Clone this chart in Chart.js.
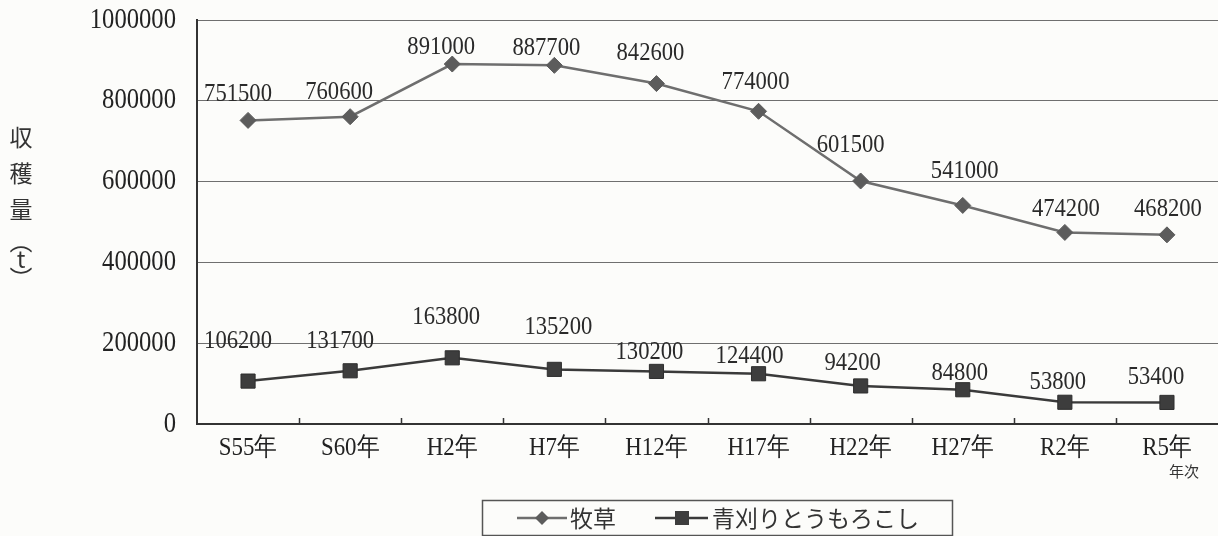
<!DOCTYPE html>
<html>
<head>
<meta charset="utf-8">
<script src="https://cdn.jsdelivr.net/npm/chart.js@4/dist/chart.umd.min.js"></script>
<style>
  html, body { margin: 0; padding: 0; background: #fcfcfa; overflow: hidden; }
  #wrap { position: relative; width: 1218px; height: 536px; overflow: hidden; }
  #c { position: absolute; left: 0; top: 0; }
</style>
</head>
<body>
<div id="wrap"><canvas id="c" width="1229" height="536"></canvas></div>
<script>
// ---- data ----
const categories = ['S55年', 'S60年', 'H2年', 'H7年', 'H12年', 'H17年', 'H22年', 'H27年', 'R2年', 'R5年'];
const bokusou = [751500, 760600, 891000, 887700, 842600, 774000, 601500, 541000, 474200, 468200];
const aogari = [106200, 131700, 163800, 135200, 130200, 124400, 94200, 84800, 53800, 53400];
const seriesNames = ['牧草', '青刈りとうもろこし'];
const yTicks = [0, 200000, 400000, 600000, 800000, 1000000];
const yTitleChars = ['収', '穫', '量', '︵', 't', '︶'];
const xAxisNote = '年次';

// ---- label placement (style) ----
const liftTop = [26, 25, 17, 17, 30, 29, 36, 34, 23, 26];
const dxTop = [-10, -11, -11, -8, -6, -3, -10, 2, 1, 1];
const liftBot = [40, 30, 41, 42, 19, 18, 23, 17, 20, 25];
const dxBot = [-10, -10, -6, 4, -7, -9, -8, -3, -7, -11];

const SERIF = '"Liberation Serif", "DejaVu Serif", serif';
const CJK = '"Noto Sans CJK JP", "Noto Sans", sans-serif';

function condensedText(ctx, text, x, y, sx, align) {
  ctx.save();
  ctx.translate(x, y);
  ctx.scale(sx, 1);
  ctx.textAlign = align;
  ctx.fillText(text, 0, 0);
  ctx.restore();
}

const bgPlugin = {
  id: 'bg',
  beforeDraw(chart) {
    const ctx = chart.ctx;
    ctx.save();
    ctx.fillStyle = '#fcfcfa';
    ctx.fillRect(0, 0, chart.width, chart.height);
    ctx.restore();
  }
};

const axisText = {
  id: 'axisText',
  afterDraw(chart) {
    const ctx = chart.ctx;
    const xs = chart.scales.x, ys = chart.scales.y;
    const area = chart.chartArea;
    ctx.save();
    ctx.fillStyle = '#222';
    ctx.textBaseline = 'middle';
    ctx.font = '29px ' + SERIF;
    yTicks.forEach(v => {
      condensedText(ctx, String(v), 176, ys.getPixelForValue(v), 0.85, 'right');
    });
    ctx.font = '26px ' + SERIF;
    categories.forEach((c, i) => {
      condensedText(ctx, c, xs.getPixelForValue(i), area.bottom + 24, 0.88, 'center');
    });
    ctx.restore();
  }
};

const innerTicks = {
  id: 'innerTicks',
  afterDatasetsDraw(chart) {
    const ctx = chart.ctx;
    const xs = chart.scales.x;
    const area = chart.chartArea;
    ctx.save();
    ctx.strokeStyle = '#333';
    ctx.lineWidth = 1.5;
    for (let i = 1; i < categories.length; i++) {
      const x = Math.round((xs.getPixelForValue(i - 1) + xs.getPixelForValue(i)) / 2) + 0.5;
      ctx.beginPath();
      ctx.moveTo(x, area.bottom);
      ctx.lineTo(x, area.bottom - 6);
      ctx.stroke();
    }
    ctx.restore();
  }
};

const valueLabels = {
  id: 'valueLabels',
  afterDatasetsDraw(chart) {
    const ctx = chart.ctx;
    ctx.save();
    ctx.font = '26px ' + SERIF;
    ctx.fillStyle = '#2a2a2a';
    ctx.textBaseline = 'middle';
    chart.data.datasets.forEach((ds, di) => {
      const meta = chart.getDatasetMeta(di);
      const lift = di === 0 ? liftTop : liftBot;
      const dx = di === 0 ? dxTop : dxBot;
      meta.data.forEach((pt, i) => {
        condensedText(ctx, String(ds.data[i]), pt.x + dx[i], pt.y - lift[i], 0.87, 'center');
      });
    });
    ctx.restore();
  }
};

const extras = {
  id: 'extras',
  afterDraw(chart) {
    const ctx = chart.ctx;
    ctx.save();
    // y-axis title, vertical stacked
    ctx.fillStyle = '#333';
    ctx.textAlign = 'center';
    ctx.textBaseline = 'middle';
    ctx.font = '23px ' + CJK;
    const ys = [137, 173, 209, 241, 259, 278];
    yTitleChars.forEach((ch, i) => {
      ctx.fillText(ch, 21, ys[i]);
    });
    // x axis note
    ctx.font = '15px ' + CJK;
    ctx.fillText(xAxisNote, 1184, 471);

    // legend box
    const bx = 482, by = 500, bw = 470, bh = 35;
    ctx.strokeStyle = '#555';
    ctx.lineWidth = 1.5;
    ctx.strokeRect(bx + 0.5, by + 0.5, bw, bh);
    const cy = 518;
    const dss = chart.data.datasets;
    // item 1
    ctx.strokeStyle = dss[0].borderColor;
    ctx.lineWidth = 2.5;
    ctx.beginPath(); ctx.moveTo(517, cy); ctx.lineTo(567, cy); ctx.stroke();
    ctx.fillStyle = dss[0].pointBackgroundColor;
    ctx.beginPath();
    ctx.moveTo(542, cy - 7); ctx.lineTo(549, cy); ctx.lineTo(542, cy + 7); ctx.lineTo(535, cy);
    ctx.closePath(); ctx.fill();
    ctx.fillStyle = '#333';
    ctx.textAlign = 'left';
    ctx.font = '23px ' + CJK;
    ctx.fillText(seriesNames[0], 570, cy);
    // item 2
    ctx.strokeStyle = dss[1].borderColor;
    ctx.beginPath(); ctx.moveTo(655, cy); ctx.lineTo(708, cy); ctx.stroke();
    ctx.fillStyle = dss[1].pointBackgroundColor;
    ctx.fillRect(675, cy - 7, 14, 14);
    ctx.fillStyle = '#333';
    ctx.fillText(seriesNames[1], 712, cy);
    ctx.restore();
  }
};

new Chart(document.getElementById('c'), {
  type: 'line',
  data: {
    labels: categories,
    datasets: [
      {
        label: seriesNames[0],
        data: bokusou,
        borderColor: '#6e6e6e',
        backgroundColor: '#5c5c5c',
        pointBackgroundColor: '#5c5c5c',
        pointBorderColor: '#5c5c5c',
        pointStyle: 'rectRot',
        pointRadius: 8,
        pointBorderWidth: 1,
        borderWidth: 2.5,
        tension: 0
      },
      {
        label: seriesNames[1],
        data: aogari,
        borderColor: '#3a3a3a',
        backgroundColor: '#3d3d3d',
        pointBackgroundColor: '#3d3d3d',
        pointBorderColor: '#2e2e2e',
        pointStyle: 'rect',
        pointRadius: 10,
        pointBorderWidth: 1,
        borderWidth: 2.5,
        tension: 0
      }
    ]
  },
  options: {
    responsive: false,
    animation: false,
    devicePixelRatio: 1,
    layout: { padding: { left: 0, right: 0, top: 20, bottom: 0 } },
    plugins: {
      legend: { display: false },
      tooltip: { enabled: false }
    },
    scales: {
      x: {
        offset: true,
        grid: { display: false, drawTicks: false },
        border: { display: true, color: '#333', width: 2 },
        ticks: { display: false, autoSkip: false },
        afterFit(scale) { scale.height = 112; }
      },
      y: {
        min: 0,
        max: 1000000,
        afterBuildTicks(scale) { scale.ticks = yTicks.map(v => ({ value: v })); },
        grid: { color: '#6f6f6f', lineWidth: 1, drawTicks: false },
        border: { display: true, color: '#333', width: 2 },
        ticks: { display: false },
        afterFit(scale) { scale.width = 197; }
      }
    }
  },
  plugins: [bgPlugin, innerTicks, valueLabels, axisText, extras]
});
</script>
</body>
</html>
